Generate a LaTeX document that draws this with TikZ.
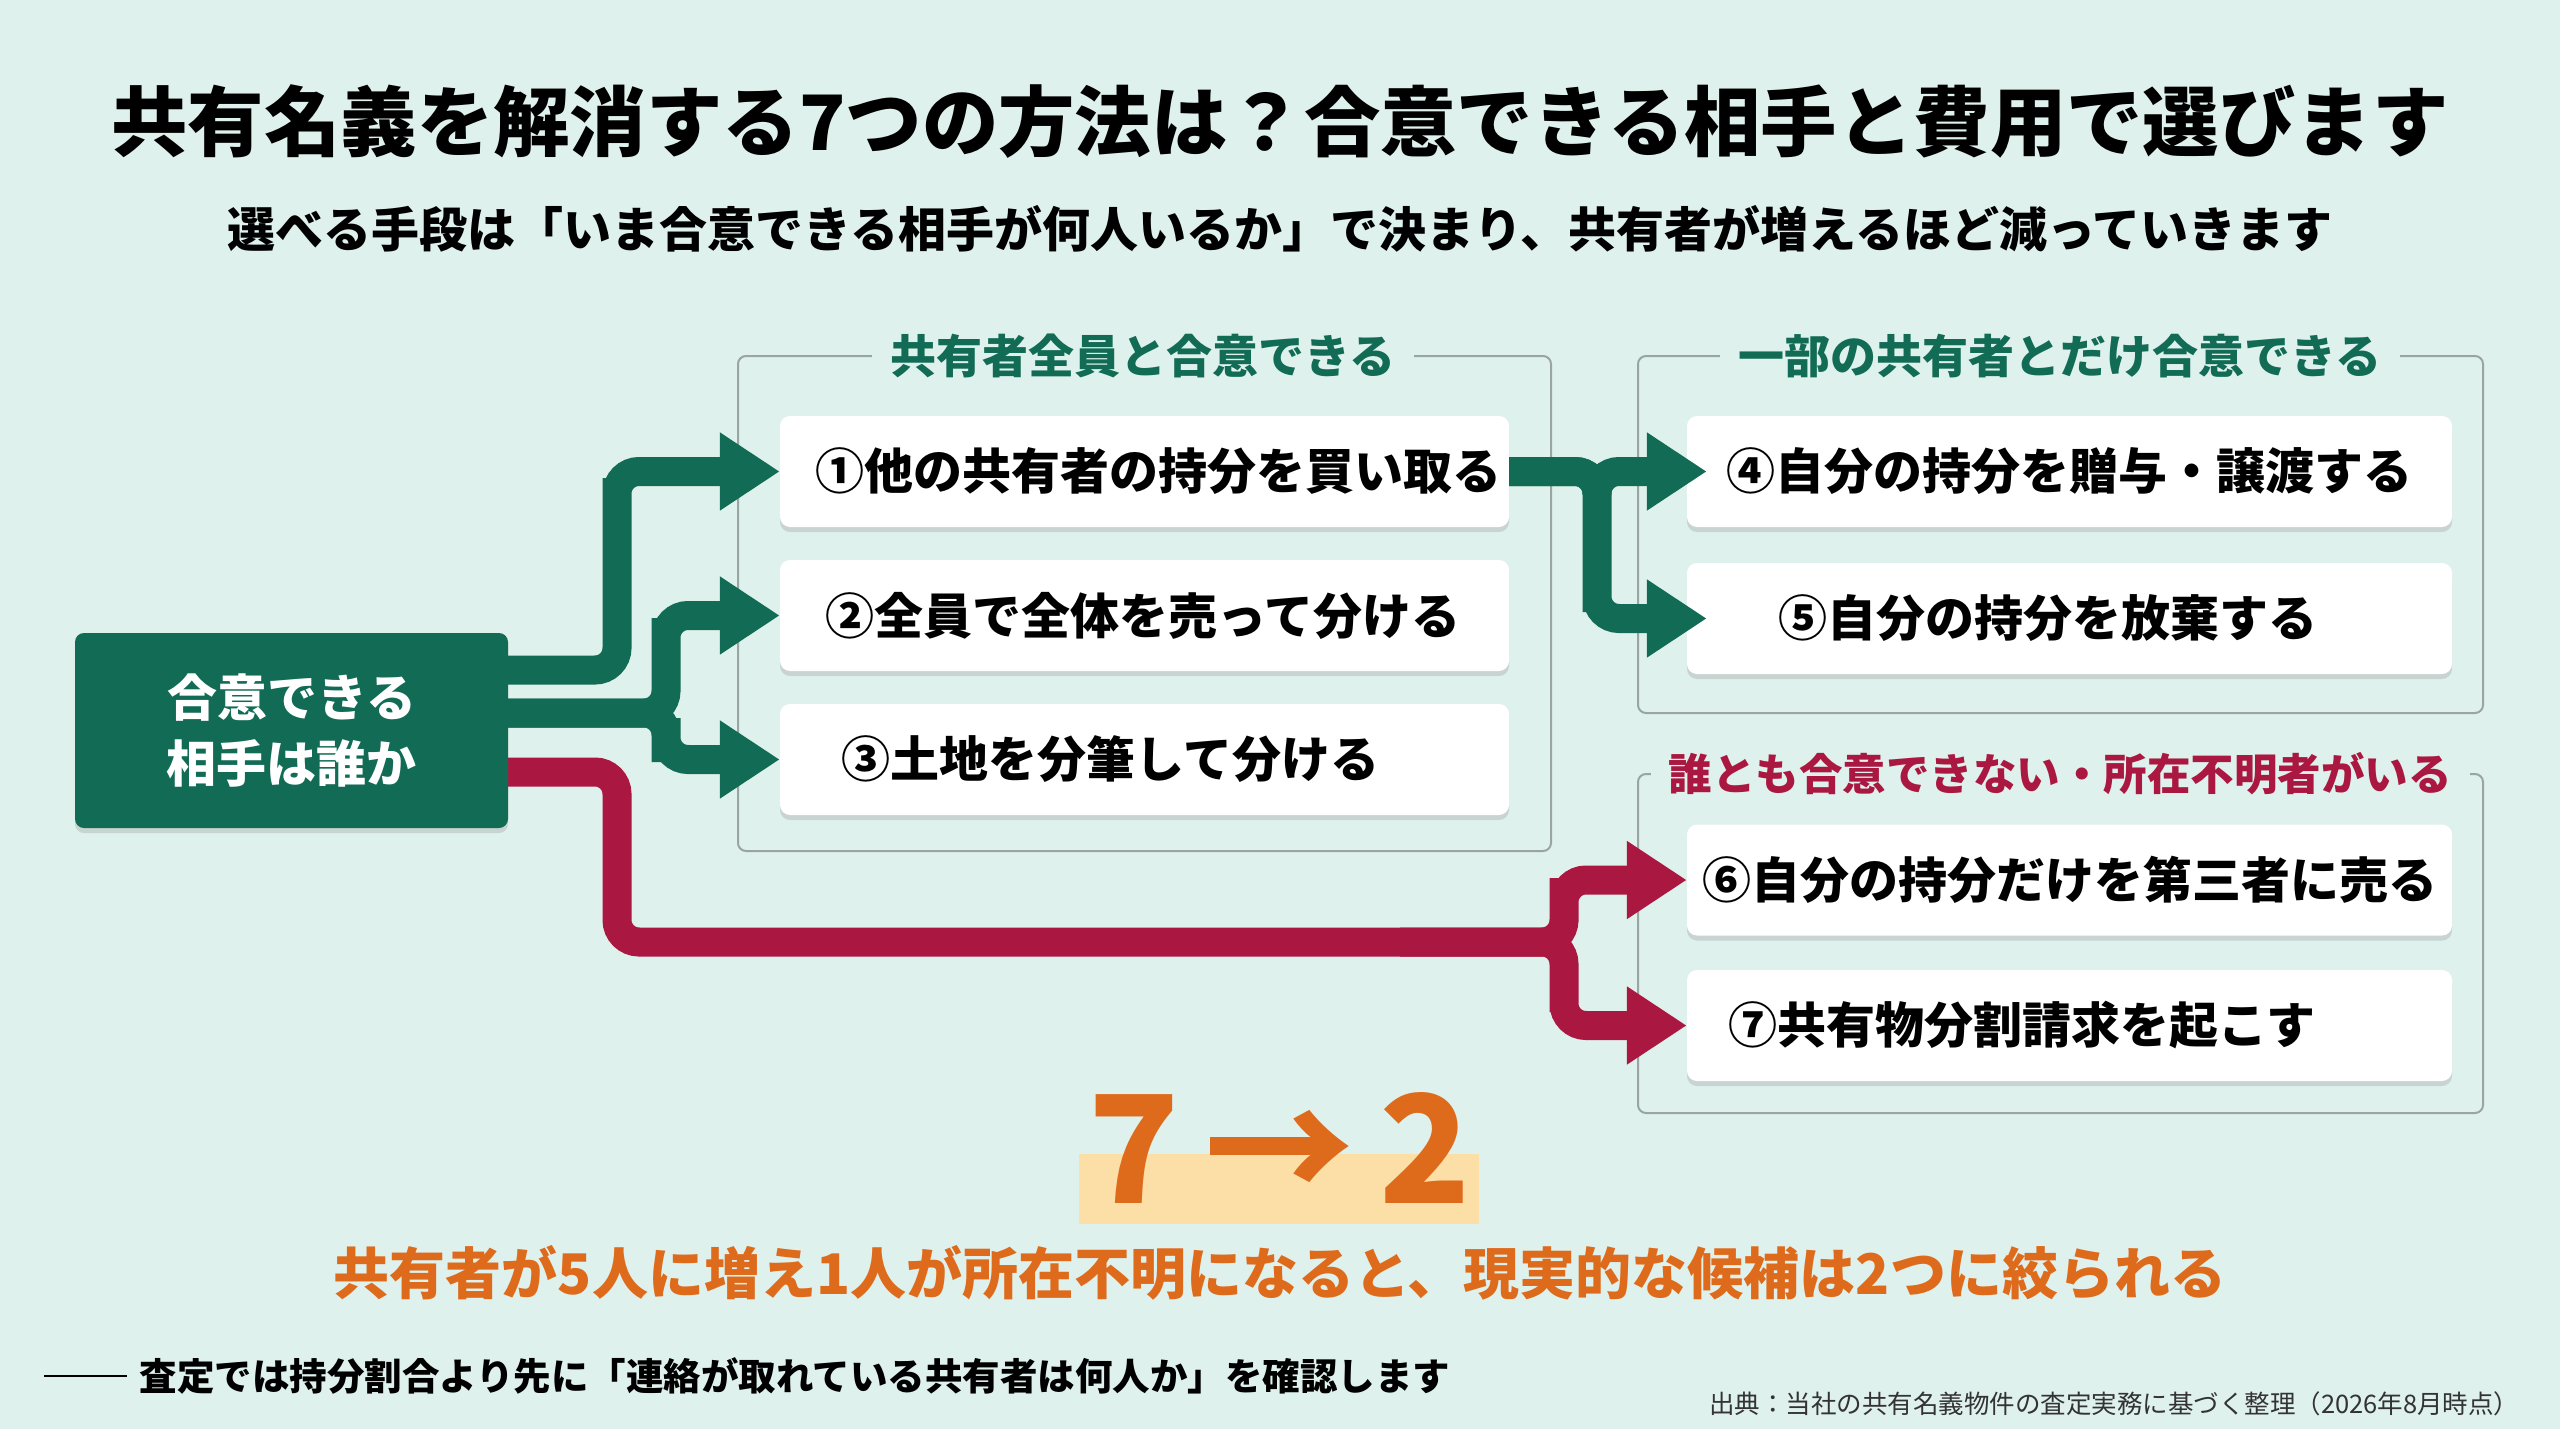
\documentclass[tikz,border=0pt]{standalone}
\usepackage{fontspec}
\setmainfont{Noto Sans CJK JP}
\usetikzlibrary{shadows,arrows.meta}
\definecolor{bg}{HTML}{DFF1ED}
\definecolor{dg}{HTML}{126B55}
\definecolor{rd}{HTML}{AA1841}
\definecolor{og}{HTML}{DE6A1B}
\definecolor{hl}{HTML}{FBDFA6}
\definecolor{gl}{HTML}{9AA5A2}
\begin{document}
\begin{tikzpicture}[x=1pt,y=-1pt,
 opt/.style={draw=none,fill=white,rounded corners=10pt,minimum width=#1,minimum height=111pt,
   drop shadow={shadow xshift=0pt,shadow yshift=-5pt,opacity=0.25,fill=gray}},
 ot/.style={font=\fontsize{49}{56}\selectfont\bfseries},
 grp/.style={draw=gl,line width=2pt,rounded corners=8pt},
 gt/.style={fill=bg,inner xsep=18pt,font=\fontsize{46}{52}\selectfont\bfseries},
 con/.style={line width=29pt,rounded corners=22pt},
 gtip/.style={-{Triangle[length=60pt,width=74pt]}}]
\fill[bg] (0,0) rectangle (2560,1429);
\useasboundingbox (0,0) rectangle (2560,1429);
\node[font=\fontsize{76.4}{84}\selectfont\bfseries] (title) at (1280,122) {共有名義を解消する7つの方法は？合意できる相手と費用で選びます};
\node[font=\fontsize{48}{56}\selectfont\bfseries] (sub) at (1280,229) {選べる手段は「いま合意できる相手が何人いるか」で決まり、共有者が増えるほど減っていきます};
% groups
\draw[grp] (738,356) rectangle (1551,851);
\draw[grp] (1638,356) rectangle (2483,713);
\draw[grp] (1638,774) rectangle (2483,1113);
\node[gt,text=dg] (g1) at (1143,356) {共有者全員と合意できる};
\node[gt,text=dg] (g2) at (2060,356) {一部の共有者とだけ合意できる};
\node[gt,text=rd,font=\fontsize{43.5}{50}\selectfont\bfseries] (g3) at (2060,774) {誰とも合意できない・所在不明者がいる};
\coordinate (s1) at (508,670);
\coordinate (s2) at (508,713);
\coordinate (s3) at (508,772);
\node[opt=729pt] (o1) at (1144.5,471.5) {};
\node[opt=729pt] (o2) at (1144.5,615.5) {};
\node[opt=729pt] (o3) at (1144.5,759.5) {};
\node[opt=765pt] (o4) at (2069.5,471.5) {};
\node[opt=765pt] (o5) at (2069.5,618.5) {};
\node[opt=765pt] (o6) at (2069.5,880) {};
\node[opt=765pt] (o7) at (2069.5,1025.5) {};
\draw[con,dg,gtip] (s1) -| (617,500) |- (o1.west);
\draw[con,dg,gtip] (s2) -| (666,640) |- (o2.west);
\draw[con,dg,gtip] (s2) -| (666,740) |- (o3.west);
\draw[con,dg,gtip] (o1.east) -| (1597,500) |- ([xshift=20pt]o4.west);
\draw[con,dg,gtip] (o1.east) -| (1597,590) |- ([xshift=20pt]o5.west);
\draw[con,rd,gtip] (s3) -| (617,942) -| (1564,900) |- (o6.west);
\draw[con,rd,gtip] (1400,942) -| (1564,990) |- (o7.west);
% texts
\node[ot,anchor=west] at (812,471.5) {①他の共有者の持分を買い取る};
\node[ot,anchor=west] at (822,615.5) {②全員で全体を売って分ける};
\node[ot,anchor=west] at (838,759.5) {③土地を分筆して分ける};
\node[ot] at (2069.5,471.5) {④自分の持分を贈与・譲渡する};
\node[ot,anchor=west] at (1775,618.5) {⑤自分の持分を放棄する};
\node[ot] at (2069.5,880) {⑥自分の持分だけを第三者に売る};
\node[ot,anchor=west] at (1725,1025.5) {⑦共有物分割請求を起こす};
\node[fill=dg,rounded corners=9pt,minimum width=433pt,minimum height=195pt,text=white,align=center,
  font=\fontsize{50}{66}\selectfont\bfseries,drop shadow={shadow xshift=0pt,shadow yshift=-5pt,opacity=0.25,fill=gray}] (src) at (291.5,730.5) {合意できる\\相手は誰か};
% bottom
\fill[hl] (1079,1154) rectangle (1479,1224);
\node[text=og,font=\fontsize{150}{160}\selectfont\bfseries] (big) at (1280,1148) {7\,→\,2};
\node[text=og,font=\fontsize{56}{62}\selectfont\bfseries] (msg) at (1280,1273) {共有者が5人に増え1人が所在不明になると、現実的な候補は2つに絞られる};
\coordinate (la) at (44,1376);
\coordinate (lb) at (127,1376);
\draw[line width=2.5pt] (la) -- (lb);
\node[anchor=west,font=\fontsize{37.5}{44}\selectfont\bfseries] (note) at (136,1376) {査定では持分割合より先に「連絡が取れている共有者は何人か」を確認します};
\node[anchor=east,text=black!80,font=\fontsize{25.5}{30}\selectfont] (cite) at (2523,1404) {出典：当社の共有名義物件の査定実務に基づく整理（2026年8月時点）};
\end{tikzpicture}
\end{document}
